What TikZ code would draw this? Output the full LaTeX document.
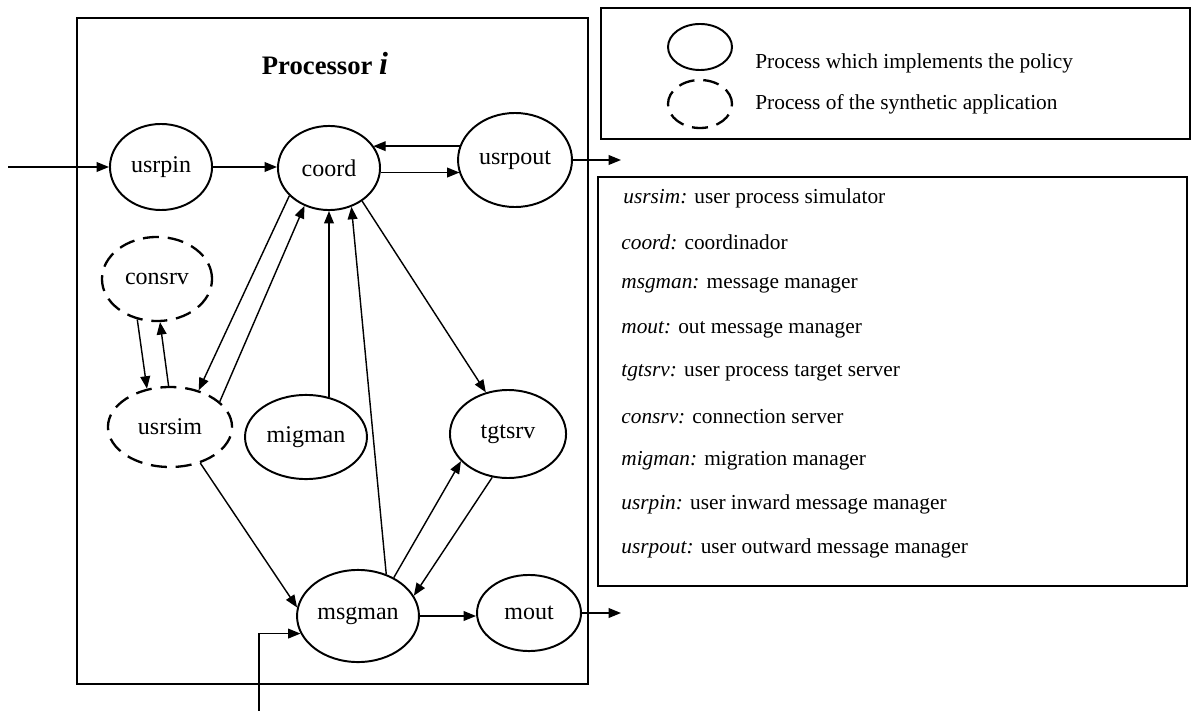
\documentclass[tikz,border=0pt]{standalone}
\usepackage{fontspec}
\setmainfont{Liberation Serif}
\usetikzlibrary{shapes.geometric,arrows.meta}

\begin{document}
\begin{tikzpicture}[x=0.5625pt,y=-0.5625pt,>={Triangle[length=7pt,width=5.5pt]},
    font=\fontsize{12}{14}\selectfont]
  \tikzstyle{proc}=[ellipse,draw,line width=1.1pt,inner sep=0pt,font=\fontsize{13.5}{15}\selectfont]
  \tikzstyle{synproc}=[proc,line width=1.3pt,dash pattern=on 9pt off 5pt]
  \tikzstyle{flow}=[->,line width=0.8pt]
  \tikzstyle{frame}=[draw,line width=1pt]
  \useasboundingbox (0,0) rectangle (1191,711);

  % processor i
  \draw[line width=1.2pt] (77,18) rectangle (588,684);
  \node (title) [anchor=base,font=\fontsize{15}{18}\selectfont\bfseries] at (325,75)
    {Processor \textit{\fontsize{18}{20}\selectfont i}};

  \node (usrpin)  [proc,minimum width=57.4pt,minimum height=48.4pt] at (161,167) {usrpin};
  \node (coord)   [proc,minimum width=57.4pt,minimum height=47.3pt] at (329,168) {coord};
  \node (usrpout) [proc,minimum width=64.1pt,minimum height=52.9pt] at (515,160) {usrpout};
  \node (consrv)  [synproc,minimum width=61.9pt,minimum height=47.3pt] at (157,279) {consrv};
  \node (usrsim)  [synproc,minimum width=69.8pt,minimum height=45pt] at (170,427) {usrsim};
  \node (migman)  [proc,minimum width=68.6pt,minimum height=47.3pt] at (306,437) {migman};
  \node (tgtsrv)  [proc,minimum width=65.3pt,minimum height=49.5pt] at (508,434) {tgtsrv};
  \node (msgman)  [proc,minimum width=68.6pt,minimum height=51.8pt] at (358,616) {msgman};
  \node (mout)    [proc,minimum width=58.5pt,minimum height=42.8pt] at (529,613) {mout};

  \coordinate (inL) at (8,167);
  \coordinate (outR) at (621,160);
  \coordinate (outM) at (621,616);
  \coordinate (inB) at (259,711);

  \draw[flow] (inL) -- (usrpin.west);
  \draw[flow] (usrpin.east) -- (usrpin.east -| coord.west);
  \draw[flow] (usrpout.166) -- (coord.27 |- usrpout.166);
  \draw[flow] (coord.-5) -- (usrpout.194 |- coord.-5);
  \draw[flow] (usrpout.east) -- (outR);
  \draw[flow] (coord.215) -- (usrsim.52);
  \draw[flow] (usrsim.27) -- (coord.237);
  \draw[flow] (coord.south |- migman.60) -- (coord.south);
  \draw[flow] (msgman.56) -- (coord.-60);
  \draw[flow] (coord.-45) -- (tgtsrv.118);
  \draw[flow] (consrv.-116) -- (usrsim.121);
  \draw[flow] (usrsim.92) -- (consrv.-86);
  \draw[flow] (usrsim.-50) -- (msgman.172);
  \draw[flow] (msgman.47) -- (tgtsrv.210);
  \draw[flow] (tgtsrv.-110) -- (msgman.20);
  \draw[flow] (msgman.east) -- (msgman.east -| mout.west);
  \draw[flow] (mout.east) -- (outM |- mout.east);
  \draw[flow] (inB) |- (msgman.197);

  % legend
  \draw[frame] (601,8) rectangle (1190,139);
  \node (keyp) [proc,minimum width=36pt,minimum height=25.9pt] at (700,47) {};
  \node (keys) [synproc,minimum width=36pt,minimum height=27pt] at (700,104) {};
  \node (keyptxt) [anchor=west,inner sep=0pt] at (755,63) {Process which implements the policy};
  \node (keystxt) [anchor=west,inner sep=0pt] at (755,104) {Process of the synthetic application};

  \draw[frame] (598,177) rectangle (1187,586);
  \node (defusrsim) [anchor=west,inner sep=0pt] at (623,198) {\textit{usrsim:} user process simulator};
  \foreach \name/\txt [count=\k] in {coord/coordinador, msgman/message manager,
      mout/out message manager, tgtsrv/user process target server,
      consrv/connection server, migman/migration manager,
      usrpin/user inward message manager, usrpout/user outward message manager}
    \node (def\name) [anchor=west,inner sep=0pt] at (621,198+43.8*\k) {\textit{\name:} \txt};
\end{tikzpicture}
\end{document}
